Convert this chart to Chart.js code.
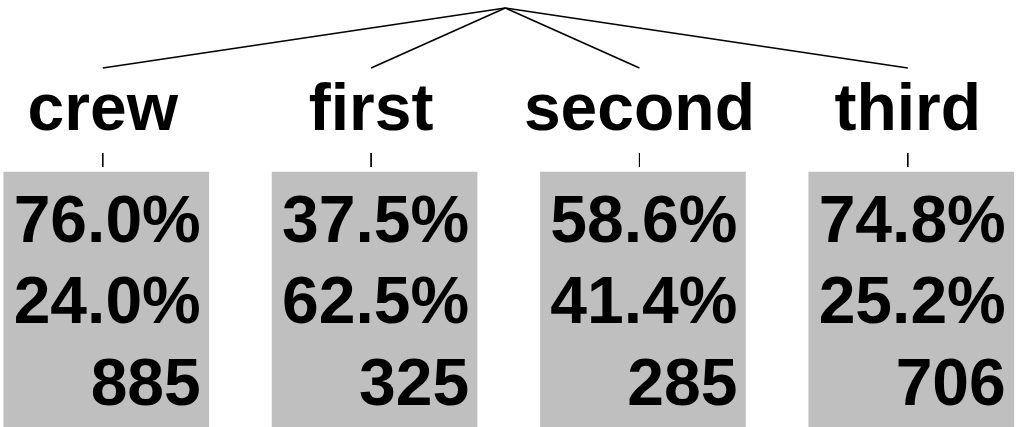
<!DOCTYPE html>
<html>
<head>
<meta charset="utf-8">
<script src="https://cdn.jsdelivr.net/npm/chart.js@4"></script>
<style>
  body { margin: 0; background: #fff; }
  #wrap { width: 1017px; height: 427px; }
</style>
</head>
<body>
<div id="wrap"><canvas id="treeChart"></canvas></div>
<script>
// Titanic: survival by class
const categories = ["crew", "first", "second", "third"];
const pctNo = [76.0, 37.5, 58.6, 74.8];
const pctYes = [24.0, 62.5, 41.4, 25.2];
const counts = [885, 325, 285, 706];

// vertical layout (pixels from top, y axis reversed)
const ROOT_Y = 8, EDGE_Y = 68, TICK_TOP = 153, TICK_BOT = 167;
const BOX_TOP = 172, BOX_BOT = 427;
const LABEL_Y = 130, ROW_Y = [242, 323, 405];
const FONT = "bold 66px 'Liberation Sans', Arial, sans-serif";

const rootX = (categories.length - 1) / 2;

const datasets = [];
categories.forEach((c, i) => {
  datasets.push({
    type: "line",
    data: [{ x: rootX, y: ROOT_Y }, { x: i, y: EDGE_Y }],
    borderColor: "#000",
    borderWidth: 1.6,
    pointRadius: 0,
  });
  datasets.push({
    type: "line",
    data: [{ x: i, y: TICK_TOP }, { x: i, y: TICK_BOT }],
    borderColor: "#000",
    borderWidth: 1,
    pointRadius: 0,
  });
});
datasets.push({
  type: "bar",
  data: categories.map((c, i) => ({ x: i + 0.013, y: [BOX_TOP, BOX_BOT] })),
  backgroundColor: "#bfbfbf",
  barThickness: 205,
  borderWidth: 0,
});

const nodeText = {
  id: "nodeText",
  afterDatasetsDraw(chart) {
    const ctx = chart.ctx;
    const xs = chart.scales.x, ys = chart.scales.y;
    ctx.save();
    ctx.fillStyle = "#000";
    ctx.font = FONT;
    ctx.textBaseline = "alphabetic";
    categories.forEach((c, i) => {
      const px = xs.getPixelForValue(i);
      ctx.textAlign = "center";
      ctx.fillText(c, px, ys.getPixelForValue(LABEL_Y));
      ctx.textAlign = "right";
      const rows = [pctNo[i].toFixed(1) + "%", pctYes[i].toFixed(1) + "%", String(counts[i])];
      rows.forEach((t, r) => ctx.fillText(t, px + 98, ys.getPixelForValue(ROW_Y[r])));
    });
    ctx.restore();
  }
};

new Chart(document.getElementById("treeChart"), {
  type: "scatter",
  data: { datasets: datasets },
  options: {
    responsive: true,
    maintainAspectRatio: false,
    animation: false,
    layout: { padding: 0 },
    plugins: { legend: { display: false }, tooltip: { enabled: false } },
    scales: {
      x: { type: "linear", min: -0.383, max: 3.407, offset: false, display: false },
      y: { type: "linear", min: 0, max: 427, reverse: true, display: false }
    }
  },
  plugins: [nodeText]
});
</script>
</body>
</html>
